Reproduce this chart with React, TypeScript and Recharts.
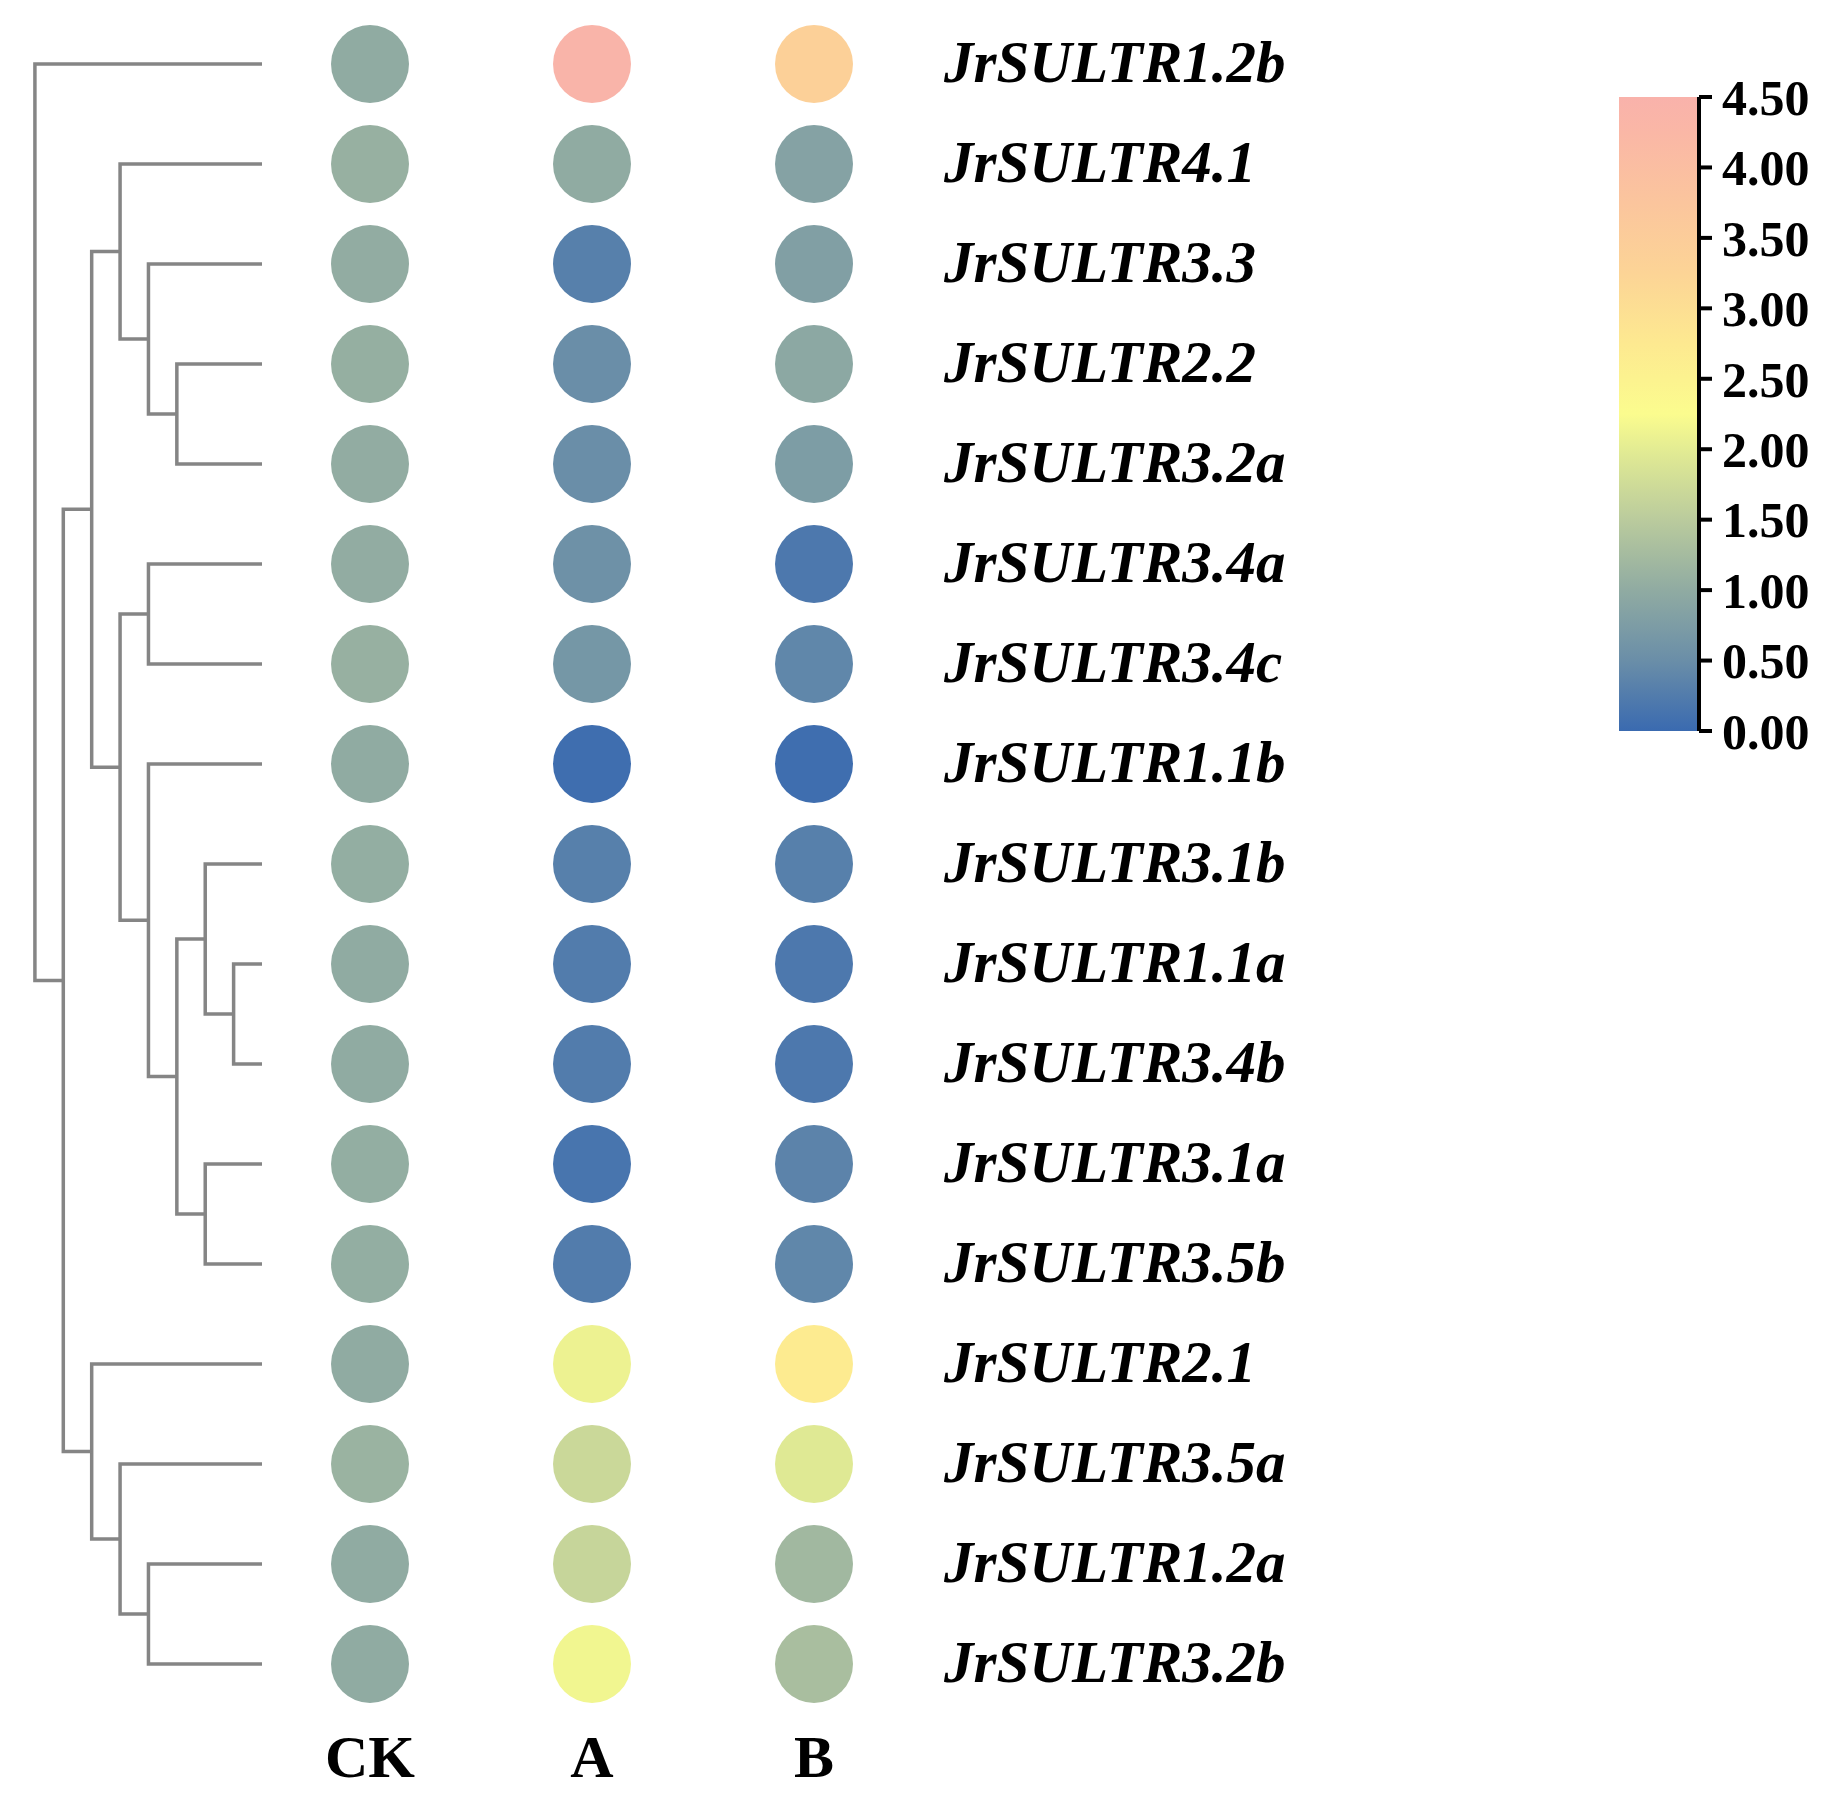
import React from "react";
import { ScatterChart, Scatter, XAxis, YAxis, BarChart, Bar } from "recharts";

const genes = [
  "JrSULTR1.2b",
  "JrSULTR4.1",
  "JrSULTR3.3",
  "JrSULTR2.2",
  "JrSULTR3.2a",
  "JrSULTR3.4a",
  "JrSULTR3.4c",
  "JrSULTR1.1b",
  "JrSULTR3.1b",
  "JrSULTR1.1a",
  "JrSULTR3.4b",
  "JrSULTR3.1a",
  "JrSULTR3.5b",
  "JrSULTR2.1",
  "JrSULTR3.5a",
  "JrSULTR1.2a",
  "JrSULTR3.2b",
];
const groups = ["CK", "A", "B"];

// relative expression, one value per gene (same order as genes)
const ckValues = [1.0, 1.08, 1.02, 1.06, 1.02, 1.02, 1.08, 1.0, 1.04, 1.0, 1.0, 1.04, 1.04, 1.0, 1.12, 1.0, 1.0];
const aValues = [4.4, 1.0, 0.3, 0.5, 0.5, 0.55, 0.65, 0.05, 0.3, 0.25, 0.25, 0.15, 0.25, 2.1, 1.7, 1.65, 2.15];
const bValues = [3.4, 0.85, 0.8, 0.95, 0.75, 0.2, 0.4, 0.05, 0.3, 0.2, 0.2, 0.35, 0.4, 2.7, 1.95, 1.2, 1.3];

// row clustering: [left, right, level]; ids 0-16 are genes, 17+ follow in this order
const merges = [
  [3, 4, 3],
  [2, 17, 4],
  [1, 18, 5],
  [5, 6, 4],
  [9, 10, 1],
  [8, 21, 2],
  [11, 12, 2],
  [22, 23, 3],
  [7, 24, 4],
  [20, 25, 5],
  [19, 26, 6],
  [15, 16, 4],
  [14, 28, 5],
  [13, 29, 6],
  [27, 30, 7],
  [0, 31, 8],
];

const scaleTicks = [0, 0.5, 1, 1.5, 2, 2.5, 3, 3.5, 4, 4.5];
const stopValues = [0, 0.5, 1.0, 1.5, 2.0, 2.25, 2.75, 3.25, 3.75, 4.25, 4.5];
const stopColors = [
  "#3a6ab0",
  "#6a8ea8",
  "#90aba2",
  "#bacb9d",
  "#e3ec93",
  "#fbfc8e",
  "#fde990",
  "#fcd496",
  "#fbc59d",
  "#fab7a6",
  "#f9b2ab",
];

const serif = "'Liberation Serif', 'Times New Roman', serif";
const scaleMax = scaleTicks[scaleTicks.length - 1];

function hexToRgb(h: string) {
  const n = parseInt(h.slice(1), 16);
  return [(n >> 16) & 255, (n >> 8) & 255, n & 255];
}

function valueColor(v: number) {
  if (v <= stopValues[0]) return stopColors[0];
  for (let i = 1; i < stopValues.length; i++) {
    if (v <= stopValues[i]) {
      const t = (v - stopValues[i - 1]) / (stopValues[i] - stopValues[i - 1]);
      const a = hexToRgb(stopColors[i - 1]);
      const b = hexToRgb(stopColors[i]);
      const c = a.map((x, k) => Math.round(x + (b[k] - x) * t));
      return `rgb(${c[0]},${c[1]},${c[2]})`;
    }
  }
  return stopColors[stopColors.length - 1];
}

// build node positions then one "bracket" polyline per merge
const nodes = genes.map((_, i) => ({ row: i, h: 0 }));
merges.forEach(([l, r, lvl]) => {
  nodes.push({ row: (nodes[l].row + nodes[r].row) / 2, h: lvl });
});
const brackets = merges.map(([l, r, lvl]) => [
  { h: nodes[l].h, row: nodes[l].row },
  { h: lvl, row: nodes[l].row },
  { h: lvl, row: nodes[r].row },
  { h: nodes[r].h, row: nodes[r].row },
]);

const dots = genes.flatMap((_, i) =>
  [ckValues[i], aValues[i], bValues[i]].map((value, j) => ({ col: j, row: i, value }))
);

const rowDomain: [number, number] = [-0.5, genes.length - 0.5];
const rowTicks = genes.map((_, i) => i);

function Dendrogram() {
  return (
    <ScatterChart width={262} height={1805} margin={{ top: 14, right: 0, bottom: 91, left: 0 }}>
      <XAxis type="number" dataKey="h" domain={[0, 9.23]} reversed hide />
      <YAxis type="number" dataKey="row" domain={rowDomain} reversed hide />
      {brackets.map((pts, i) => (
        <Scatter
          key={i}
          data={pts}
          line={{ stroke: "#858585", strokeWidth: 3.5 }}
          lineType="joint"
          shape={() => <g />}
          legendType="none"
          isAnimationActive={false}
        />
      ))}
    </ScatterChart>
  );
}

function DotMatrix() {
  return (
    <ScatterChart width={1086} height={1805} margin={{ top: 14, right: 0, bottom: 0, left: 0 }}>
      <XAxis
        type="number"
        dataKey="col"
        domain={[-0.5, 2.5]}
        ticks={[0, 1, 2]}
        interval={0}
        tickFormatter={(v) => groups[v]}
        axisLine={false}
        tickLine={false}
        tickSize={0}
        tickMargin={20}
        height={91}
        tick={{ fontSize: 60, fontWeight: "bold", fill: "#000", fontFamily: serif }}
      />
      <YAxis
        type="number"
        dataKey="row"
        orientation="right"
        domain={rowDomain}
        reversed
        ticks={rowTicks}
        interval={0}
        tickFormatter={(v) => genes[v]}
        axisLine={false}
        tickLine={false}
        tickSize={0}
        tickMargin={19}
        width={420}
        tick={{
          fontSize: 59,
          fontWeight: "bold",
          fontStyle: "italic",
          fill: "#000",
          fontFamily: serif,
          dy: -3,
        }}
      />
      <Scatter
        data={dots}
        shape={(p: any) => <circle cx={p.cx} cy={p.cy} r={39} fill={valueColor(p.payload.value)} />}
        isAnimationActive={false}
      />
    </ScatterChart>
  );
}

function ColorScale() {
  // gradient runs top (max) to bottom (0): stops listed from the top down
  const gradStops = stopValues
    .map((v, i) => ({ offset: 1 - v / scaleMax, color: stopColors[i] }))
    .reverse();
  return (
    <BarChart
      width={218}
      height={760}
      data={[{ name: "scale", value: scaleMax }]}
      margin={{ top: 97, right: 0, bottom: 29, left: 0 }}
      barCategoryGap={0}
    >
      <defs>
        <linearGradient id="cbGrad" x1="0" y1="0" x2="0" y2="1">
          {gradStops.map((s, i) => (
            <stop key={i} offset={s.offset} stopColor={s.color} />
          ))}
        </linearGradient>
      </defs>
      <XAxis dataKey="name" hide />
      <YAxis
        orientation="right"
        domain={[0, scaleMax]}
        ticks={scaleTicks}
        interval={0}
        tickFormatter={(v) => v.toFixed(2)}
        axisLine={{ stroke: "#000", strokeWidth: 4 }}
        tickLine={{ stroke: "#000", strokeWidth: 4 }}
        tickSize={13}
        tickMargin={10}
        width={138}
        tick={{ fontSize: 50, fontWeight: "bold", fill: "#000", fontFamily: serif }}
      />
      <Bar dataKey="value" fill="url(#cbGrad)" isAnimationActive={false} />
    </BarChart>
  );
}

export default function App() {
  return (
    <div style={{ position: "relative", width: 1837, height: 1805, background: "#fff" }}>
      <style>{"body{margin:0}"}</style>
      <div style={{ position: "absolute", left: 0, top: 0 }}>
        <Dendrogram />
      </div>
      <div style={{ position: "absolute", left: 259, top: 0 }}>
        <DotMatrix />
      </div>
      <div style={{ position: "absolute", left: 1619, top: 0 }}>
        <ColorScale />
      </div>
    </div>
  );
}
